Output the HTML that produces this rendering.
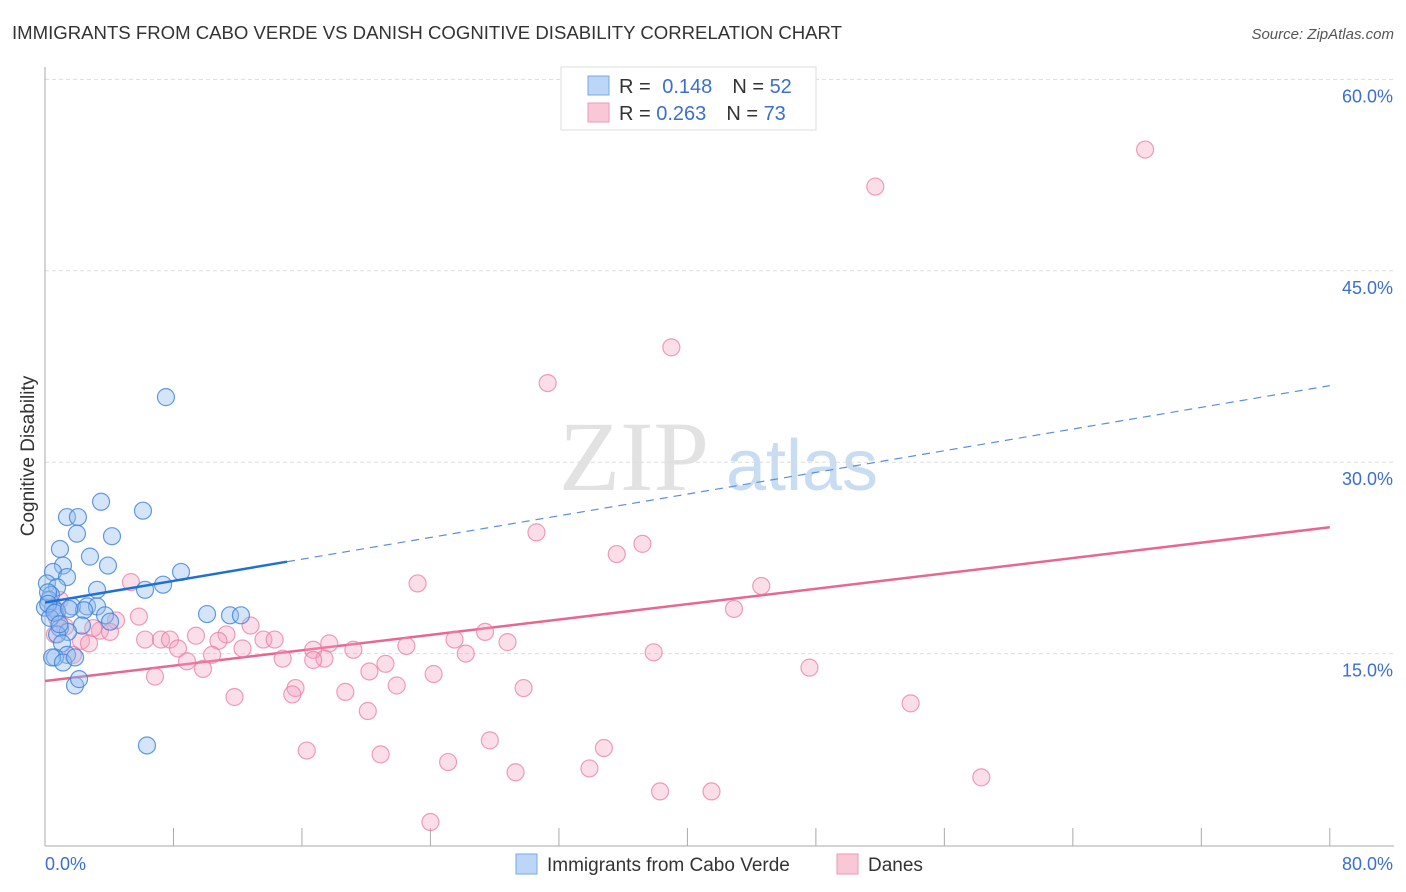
<!DOCTYPE html>
<html><head><meta charset="utf-8"><style>
body{margin:0;background:#fff;font-family:"Liberation Sans",sans-serif;}
svg{display:block}
</style></head><body>
<svg id="chart" width="1406" height="892" xmlns="http://www.w3.org/2000/svg">
<text x="12" y="39" font-size="18" fill="#333" textLength="830" lengthAdjust="spacingAndGlyphs">IMMIGRANTS FROM CABO VERDE VS DANISH COGNITIVE DISABILITY CORRELATION CHART</text>
<text x="1394" y="39" font-size="15" fill="#555" text-anchor="end" font-style="italic">Source: ZipAtlas.com</text>
<text transform="translate(34,456) rotate(-90)" font-size="19" fill="#333" text-anchor="middle">Cognitive Disability</text>
<g>
<text x="634" y="490" font-size="100" font-family="Liberation Serif,serif" fill="#e2e2e2" text-anchor="middle">ZIP</text>
<text x="802" y="490" font-size="72" fill="#c8dcf2" text-anchor="middle">atlas</text>
</g>
<g id="grid"></g>
<g id="axes"></g>
<g id="trends"></g>
<g id="points"></g>
<g>
<rect x="561" y="67" width="255" height="63" fill="#fff" stroke="#ddd"/>
<rect x="588" y="76" width="21" height="19" fill="#bcd6f7" stroke="#7aa8e6"/>
<rect x="588" y="103" width="21" height="19" fill="#f9c8d6" stroke="#ee9ab4"/>
<text x="619" y="93" font-size="20" fill="#333">R = <tspan fill="#3a6fd0" dx="6">0.148</tspan><tspan dx="20" fill="#333">N = </tspan><tspan fill="#3a6fd0">52</tspan></text>
<text x="619" y="120" font-size="20" fill="#333">R = <tspan fill="#3a6fd0">0.263</tspan><tspan dx="20" fill="#333">N = </tspan><tspan fill="#3a6fd0">73</tspan></text>
</g>
<g>
<rect x="516" y="854" width="21" height="20" fill="#bcd6f7" stroke="#7aa8e6"/>
<text x="547" y="871" font-size="19" fill="#333">Immigrants from Cabo Verde</text>
<rect x="837" y="854" width="21" height="20" fill="#f9c8d6" stroke="#ee9ab4"/>
<text x="868" y="871" font-size="19" fill="#333">Danes</text>
</g>
</svg>
<script>
const xTicks=[0,10,20,30,40,50,60,70,80];
const yTicks=[15,30,45,60];
const yTickLabels=["15.0%","30.0%","45.0%","60.0%"];
const xEndLabels=["0.0%","80.0%"];
const blueX=[7.53,3.49,6.10,1.37,2.05,1.99,4.17,0.93,2.80,3.92,1.12,0.50,1.37,8.47,0.12,0.75,7.35,6.23,3.24,0.37,0.25,1.68,2.62,3.24,2.43,0.50,0.0,0.75,10.09,11.52,12.2,3.74,4.05,2.30,0.93,1.43,0.75,1.06,1.37,0.62,0.44,1.12,1.87,1.87,2.12,6.35,0.19,0.31,0.2,0.6,1.5,0.9];
const blueY=[35.1,26.9,26.2,25.7,25.7,24.4,24.2,23.2,22.6,21.9,21.9,21.4,21.0,21.4,20.5,20.2,20.4,20.0,20.0,19.6,19.2,18.7,18.7,18.7,18.4,18.6,18.6,18.3,18.1,18.0,18.0,18.0,17.5,17.2,17.0,16.7,16.5,15.8,14.9,14.7,14.7,14.3,14.7,12.5,13.0,7.8,19.8,17.8,18.9,18.2,18.5,17.3];
const pinkX=[68.5,51.7,39.0,31.3,30.6,37.2,35.6,23.2,44.6,5.35,42.9,5.85,4.42,12.8,3.42,9.40,11.3,13.6,14.3,6.23,7.22,7.78,10.8,2.24,2.74,27.4,25.5,28.8,17.7,22.5,8.28,12.3,19.2,16.7,26.2,37.9,10.4,8.84,14.8,17.4,16.7,21.2,9.84,20.2,47.6,6.85,24.2,15.6,15.4,21.9,29.8,18.7,11.8,53.9,20.1,16.3,27.7,34.8,20.9,25.1,29.3,33.9,58.3,38.3,41.5,24.0,0.75,0.62,1.25,0.93,4.05,1.74,3.0];
const pinkY=[54.5,51.6,39.0,36.2,24.5,23.6,22.8,20.5,20.3,20.6,18.5,17.9,17.6,17.2,16.8,16.4,16.5,16.1,16.1,16.1,16.1,16.1,16.0,16.0,15.8,16.7,16.1,15.9,15.8,15.6,15.4,15.4,15.3,15.3,15.0,15.1,14.9,14.4,14.6,14.6,14.5,14.2,13.8,13.6,13.9,13.2,13.4,12.3,11.8,12.5,12.3,12.0,11.6,11.1,10.5,7.4,8.2,7.6,7.1,6.5,5.7,6.0,5.3,4.2,4.2,1.8,17.8,16.5,17.1,19.2,16.7,14.9,17.0];
const blueTrend=[19.0,36.0];
const blueSolidEnd=15.07;
const pinkTrend=[12.85,24.9];
const X=v=>45+v*16.06, Y=v=>845-v*12.76;
const NS="http://www.w3.org/2000/svg";
function mk(tag,attrs,parent){const e=document.createElementNS(NS,tag);for(const k in attrs)e.setAttribute(k,attrs[k]);parent.appendChild(e);return e;}
const grid=document.getElementById('grid'),axes=document.getElementById('axes'),trends=document.getElementById('trends'),pts=document.getElementById('points');
yTicks.forEach((t,i)=>{
 const l=mk('line',{x1:45,x2:1394,y1:Y(t),y2:Y(t),stroke:'#ddd','stroke-dasharray':'4,3'},grid);
 
 
 const tx=mk('text',{x:1393,y:Y(t)+23,'font-size':18,fill:'#3a6fd0','text-anchor':'end'},axes);
 tx.textContent=yTickLabels[i];
 
 
});
const ya=mk('line',{x1:45,x2:45,y1:67,y2:846,stroke:'#aaa'},axes);


const xa=mk('line',{x1:45,x2:1394,y1:846,y2:846,stroke:'#aaa'},axes);


for(let v=0;v<=80;v+=8){
 const tk=mk('line',{x1:X(v),x2:X(v),y1:828,y2:846,stroke:'#aaa'},axes);
 
 
}
[[0,'start',45],[80,'end',1393]].forEach((d,i)=>{
 const tx=mk('text',{x:d[2],y:870,'font-size':18,fill:'#3a6fd0','text-anchor':d[1]},axes);
 tx.textContent=xEndLabels[i];
 
 
});
function addPts(xs,ys,fill,stroke,name){
 xs.forEach((x,i)=>{
  const c=mk('circle',{cx:X(x),cy:Y(ys[i]),r:8.5,fill:fill,stroke:stroke,'stroke-width':1.2},pts);
  
  
 });
}
addPts(pinkX,pinkY,'rgba(244,160,188,0.35)','rgba(232,120,160,0.7)','danes-point');
addPts(blueX,blueY,'rgba(150,190,240,0.4)','rgba(60,130,220,0.8)','cabo-verde-point');
const by=x=>blueTrend[0]+(blueTrend[1]-blueTrend[0])*x/80;
const py=x=>pinkTrend[0]+(pinkTrend[1]-pinkTrend[0])*x/80;
const pl=mk('line',{x1:X(0),y1:Y(py(0)),x2:X(80),y2:Y(py(80)),stroke:'#e8678f','stroke-width':2.5},trends);


const bd=mk('line',{x1:X(blueSolidEnd),y1:Y(by(blueSolidEnd)),x2:X(80),y2:Y(by(80)),stroke:'#5a8fdc','stroke-width':1.2,'stroke-dasharray':'8,6'},trends);


const bs=mk('line',{x1:X(0),y1:Y(by(0)),x2:X(blueSolidEnd),y2:Y(by(blueSolidEnd)),stroke:'#1f6fd6','stroke-width':2.5},pts);


</script>
</body></html>
